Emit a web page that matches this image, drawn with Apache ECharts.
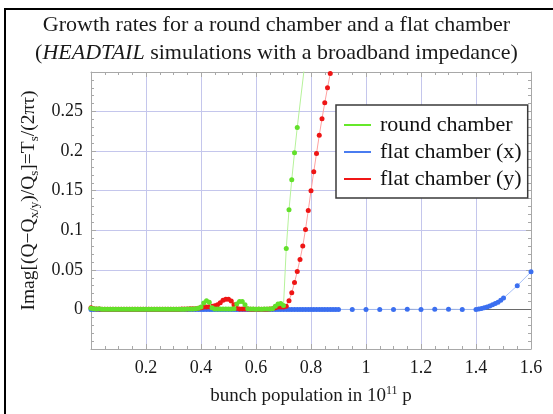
<!DOCTYPE html>
<html><head><meta charset="utf-8">
<script src="https://cdn.jsdelivr.net/npm/echarts@6/dist/echarts.min.js"></script>
<style>html,body{margin:0;padding:0;background:#fff}#c{width:553px;height:414px}</style>
</head><body><div id="c"></div>
<script>
// ---- data ----
const lowX = [0,0.01,0.02,0.03,0.04,0.05,0.06,0.07,0.08,0.09,0.10,0.11,0.12,0.13,0.14,0.15,0.16,0.17,0.18,0.19,0.20,0.21,0.22,0.23,0.24,0.25,0.26,0.27,0.28,0.29,0.30,0.31,0.32,0.33,0.34,0.35,0.36,0.37,0.38,0.39,0.40,0.41,0.42,0.43,0.44,0.45,0.46,0.47,0.48,0.49,0.50,0.51,0.52,0.53,0.54,0.55,0.56,0.57,0.58,0.59,0.60,0.61,0.62,0.63,0.64,0.65,0.66,0.67,0.68,0.69,0.70];
const greenLow = [0.0015,0.001,0.0005,0.0008,0.0003,0.0002,0.0003,0.0001,0.0002,0.0003,0.0002,0.0001,0.0002,0.0003,0.0002,0.0001,0.0002,0.0002,0.0001,0.0002,0.0003,0.0002,0.0001,0.0002,0.0002,0.0001,0.0002,0.0003,0.0002,0.0002,0.0001,0.0002,0.0002,0.0003,0.0002,0.0004,0.0005,0.0006,0.0008,0.0015,0.003,0.008,0.011,0.009,0.002,0.0006,0.0005,0.0004,0.0005,0.0004,0.0005,0.0006,0.001,0.007,0.010,0.010,0.006,0.001,0.0005,0.0004,0.0003,0.0004,0.0003,0.0004,0.0005,0.0006,0.001,0.004,0.007,0.0075,0.005];
const redLow = [0.002,0.001,0.0005,0.0004,0.0003,0.0002,0.0003,0.0002,0.0002,0.0003,0.0002,0.0002,0.0003,0.0002,0.0002,0.0003,0.0002,0.0002,0.0003,0.0002,0.0002,0.0003,0.0002,0.0002,0.0003,0.0002,0.0002,0.0003,0.0002,0.0002,0.0003,0.0002,0.0003,0.0004,0.0005,0.0006,0.0007,0.0008,0.001,0.0015,0.002,0.003,0.003,0.0035,0.004,0.0045,0.006,0.0085,0.0115,0.013,0.013,0.0105,0.006,0.0015,0.0005,0.0005,0.0005,0.0004,0.0003,0.0003,0.0002,0.0002,0.0003,0.0002,0.0003,0.0005,0.001,0.002,0.003,0.003,0.003];
const greenRiseX = [0.71,0.72,0.73,0.74,0.75,0.78];
const greenRiseY = [0.077,0.126,0.164,0.198,0.230,0.318];
const redRiseX = [0.71,0.72,0.73,0.74,0.75,0.76,0.77,0.78,0.79,0.80,0.81,0.82,0.83,0.84,0.85,0.86,0.87,0.88];
const redRiseY = [0.004,0.011,0.021,0.034,0.048,0.063,0.080,0.101,0.125,0.150,0.174,0.197,0.220,0.241,0.261,0.280,0.298,0.318];
const blueX = [0,0.01,0.02,0.03,0.04,0.05,0.06,0.07,0.08,0.09,0.10,0.11,0.12,0.13,0.14,0.15,0.16,0.17,0.18,0.19,0.20,0.21,0.22,0.23,0.24,0.25,0.26,0.27,0.28,0.29,0.30,0.31,0.32,0.33,0.34,0.35,0.36,0.37,0.38,0.39,0.40,0.41,0.42,0.43,0.44,0.45,0.46,0.47,0.48,0.49,0.50,0.51,0.52,0.53,0.54,0.55,0.56,0.57,0.58,0.59,0.60,0.61,0.62,0.63,0.64,0.65,0.66,0.67,0.68,0.69,0.70,0.71,0.72,0.73,0.74,0.75,0.76,0.77,0.78,0.79,0.80,0.81,0.82,0.83,0.84,0.85,0.86,0.87,0.88,0.89,0.90,
  0.95,1.00,1.05,1.10,1.15,1.20,1.25,1.30,1.35,
  1.40,1.41,1.42,1.43,1.44,1.45,1.46,1.47,1.48,1.49,1.50,1.55,1.60];
const blueY = [0,0,0,0,0,0,0,0,0,0,0,0,0,0,0,0,0,0,0,0,0,0,0,0,0,0,0,0,0,0,0,0,0,0,0,0,0,0,0,0,0,0,0,0,0,0,0,0,0,0,0,0,0,0,0,0,0,0,0,0,0,0,0,0,0,0,0,0,0,0,0,0,0,0,0,0,0,0,0,0,0,0,0,0,0,0,0,0,0,0,0,
  0,0,0,0,0.0003,0,0.0002,0.0002,0,
  0,0.0006,0.0013,0.002,0.003,0.0042,0.0058,0.0075,0.0092,0.0117,0.0143,0.030,0.0475];
const xTicks = {min:0, max:1.6, interval:0.2};
const yTicks = {min:-0.05, max:0.3, interval:0.05};
const seriesNames = ['round chamber','flat chamber (x)','flat chamber (y)'];

function pairs(xs, ys){ return xs.map((x,i)=>[x, ys[i]]); }
const greenData = pairs(lowX, greenLow).concat(pairs(greenRiseX, greenRiseY));
const redData = pairs(lowX, redLow).concat(pairs(redRiseX, redRiseY));
const blueData = pairs(blueX, blueY);

const SERIF = '"Liberation Serif","Times New Roman",serif';
const frame = '#a8a8a8';
const gridCol = '#c4c6ec';

function axisCommon(){
  return {
    axisLine:{show:true, onZero:false, lineStyle:{color:frame, width:1}},
    axisTick:{show:true, inside:true, length:5, lineStyle:{color:frame}},
    minorTick:{show:true, length:3, lineStyle:{color:frame}},
  };
}

const chart = echarts.init(document.getElementById('c'), null, {renderer:'canvas'});
chart.setOption({
  animation:false,
  backgroundColor:'#fff',
  title:{
    left:'center', top:6,
    text:'{a|Growth rates for a round chamber and a flat chamber}\n{a|(}{i|HEADTAIL}{a| simulations with a broadband impedance)}',
    textStyle:{ fontFamily:SERIF, fontSize:22, fontWeight:'normal', color:'#1a1a1a', lineHeight:28,
      rich:{ a:{fontFamily:SERIF, fontSize:22, color:'#1a1a1a', lineHeight:28},
             i:{fontFamily:SERIF, fontSize:22, fontStyle:'italic', color:'#1a1a1a', lineHeight:28} } }
  },
  graphic:[{type:'rect', shape:{x:5, y:9, width:700, height:600}, style:{fill:'none', stroke:'#000', lineWidth:2}, silent:true, z:-1}],
  grid:{left:91, right:22, top:72, bottom:65, containLabel:false},
  legend:{
    orient:'vertical', left:336, top:105,
    data:[
      {name:seriesNames[0], itemStyle:{color:'#66e82a'}},
      {name:seriesNames[1], itemStyle:{color:'#4a7cf0'}},
      {name:seriesNames[2], itemStyle:{color:'#f01616'}}
    ],
    icon:'rect', itemWidth:27, itemHeight:2, itemGap:5,
    padding:[9,6,8,8],
    backgroundColor:'#fff', borderColor:'#3a3a3a', borderWidth:1.5,
    textStyle:{fontFamily:SERIF, fontSize:22, color:'#111', padding:[0,0,0,4]},
    z:10
  },
  xAxis:[
    Object.assign(axisCommon(), {
      type:'value', position:'bottom', min:xTicks.min, max:xTicks.max, interval:xTicks.interval,
      minorTick:{show:true, splitNumber:4, length:3, lineStyle:{color:frame}},
      splitLine:{show:true, lineStyle:{color:gridCol, width:1}},
      axisLabel:{fontFamily:SERIF, fontSize:18, color:'#1a1a1a', margin:10,
        formatter:v=> Math.abs(v)<1e-9 ? '' : String(+v.toFixed(2))},
      name:'{t|bunch population in 10}{p|11}{t| p}', nameLocation:'middle', nameGap:36,
      nameTextStyle:{rich:{t:{fontFamily:SERIF, fontSize:19, color:'#1a1a1a', lineHeight:22},
                           p:{fontFamily:SERIF, fontSize:12, color:'#1a1a1a', lineHeight:12, verticalAlign:'top'}}}
    }),
    Object.assign(axisCommon(), {
      type:'value', position:'top', min:xTicks.min, max:xTicks.max, interval:xTicks.interval,
      minorTick:{show:true, splitNumber:4, length:3, lineStyle:{color:frame}},
      splitLine:{show:false}, axisLabel:{show:false}
    })
  ],
  yAxis:[
    Object.assign(axisCommon(), {
      type:'value', position:'left', min:yTicks.min, max:yTicks.max, interval:yTicks.interval,
      minorTick:{show:true, splitNumber:5, length:3, lineStyle:{color:frame}},
      splitLine:{show:true, lineStyle:{color:gridCol, width:1}},
      axisLabel:{fontFamily:SERIF, fontSize:18, color:'#1a1a1a', margin:8,
        formatter:v=> (v < -0.01 || v > 0.29) ? '' : String(+v.toFixed(3))},
      name:'{t|Imag[(Q−Q}{s|x/y}{t|)/Q}{s|s}{t|]=T}{s|s}{t|/(2πτ)}',
      nameLocation:'middle', nameRotate:90, nameGap:50,
      nameTextStyle:{padding:[0,0,0,20], rich:{t:{fontFamily:SERIF, fontSize:19.5, color:'#1a1a1a', lineHeight:24},
                           s:{fontFamily:SERIF, fontSize:13, color:'#1a1a1a', lineHeight:13, verticalAlign:'bottom'}}}
    }),
    Object.assign(axisCommon(), {
      type:'value', position:'right', min:yTicks.min, max:yTicks.max, interval:yTicks.interval,
      minorTick:{show:true, splitNumber:5, length:3, lineStyle:{color:frame}},
      splitLine:{show:false}, axisLabel:{show:false}
    })
  ],
  series:[
    { name:seriesNames[1], type:'line', data:blueData, showSymbol:true, showAllSymbol:true,
      symbol:'circle', symbolSize:5, itemStyle:{color:'#3b6ff0'},
      lineStyle:{color:'#a7c0f8', width:1}, z:2,
      markLine:{silent:true, symbol:'none', label:{show:false}, animation:false,
        lineStyle:{color:'#6a6a6a', width:1, type:'solid'}, data:[{yAxis:0}], z:1} },
    { name:seriesNames[2], type:'line', data:redData, showSymbol:true, showAllSymbol:true,
      symbol:'circle', symbolSize:5, itemStyle:{color:'#ee1515'},
      lineStyle:{color:'#ffa0a0', width:1}, z:3 },
    { name:seriesNames[0], type:'line', data:greenData, showSymbol:true, showAllSymbol:true,
      symbol:'circle', symbolSize:5, itemStyle:{color:'#62e02a'},
      lineStyle:{color:'#b6f29a', width:1}, z:4 }
  ]
});
</script></body></html>
